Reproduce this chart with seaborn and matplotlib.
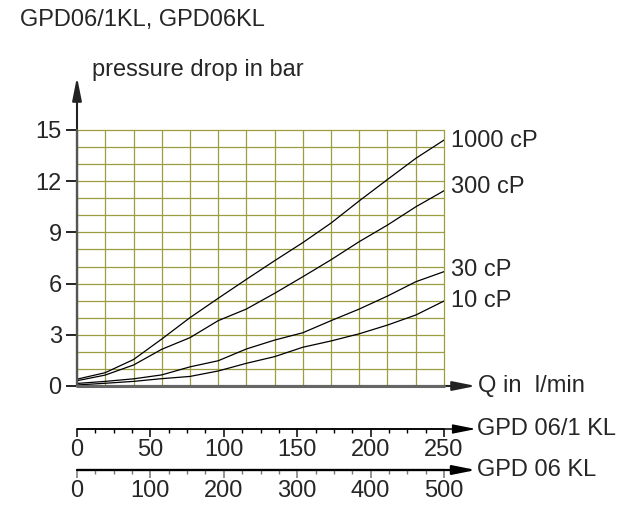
import numpy as np
import pandas as pd
import matplotlib
matplotlib.use("Agg")
import matplotlib.pyplot as plt
import seaborn as sns
from matplotlib.ticker import MultipleLocator

# ---- data ----
flow = [0, 19.2, 38.5, 57.7, 76.9, 96.2, 115.4, 134.6, 153.8, 173.1, 192.3, 211.5, 230.8, 250]
p_1000 = [0.40, 0.78, 1.55, 2.75, 4.00, 5.14, 6.25, 7.34, 8.40, 9.55, 10.85, 12.1, 13.34, 14.41]
p_300 = [0.31, 0.64, 1.23, 2.15, 2.83, 3.83, 4.51, 5.43, 6.40, 7.40, 8.46, 9.43, 10.5, 11.44]
p_30 = [0.15, 0.27, 0.42, 0.65, 1.12, 1.48, 2.17, 2.69, 3.12, 3.83, 4.51, 5.27, 6.11, 6.70]
p_10 = [0.06, 0.16, 0.27, 0.43, 0.56, 0.88, 1.33, 1.72, 2.27, 2.64, 3.06, 3.57, 4.16, 4.98]
series_names = ["1000 cP", "300 cP", "30 cP", "10 cP"]
y_ticks = [0, 3, 6, 9, 12, 15]
scale1_ticks = [0, 50, 100, 150, 200, 250]
scale2_ticks = [0, 100, 200, 300, 400, 500]

df = pd.DataFrame({
    "Q": flow * 4,
    "p": p_1000 + p_300 + p_30 + p_10,
    "visc": sum([[n] * len(flow) for n in series_names], []),
})

sns.set_style("white")
plt.rcParams["font.family"] = ["Liberation Sans", "DejaVu Sans"]
FS = 17

W, H = 636, 508
fig = plt.figure(figsize=(W / 100, H / 100), dpi=100)

def fx(px):
    return px / W

def fy(py):
    return 1 - py / H

x0, x1 = 77, 444
y0, y1 = 386, 130
ax = fig.add_axes([fx(x0), fy(y0), (x1 - x0) / W, (y0 - y1) / H])
ax.set_xlim(0, 250)
ax.set_ylim(0, 15)
for s in ax.spines.values():
    s.set_visible(False)

# grid
grid_c = "#9c9c40"
ax.set_xticks(flow)
ax.set_xticklabels([])
ax.set_yticks(y_ticks)
ax.yaxis.set_minor_locator(MultipleLocator(1))
ax.tick_params(axis="x", length=0)
ax.tick_params(axis="y", which="major", length=8, width=1.2, color="black",
               labelsize=FS, pad=3, left=True)
ax.tick_params(axis="y", which="minor", length=0)
ax.grid(True, which="both", color=grid_c, lw=0.9)
ax.set_axisbelow(True)
for ln in ax.get_xgridlines() + ax.get_ygridlines():
    ln.set_clip_on(False)

sns.lineplot(data=df, x="Q", y="p", units="visc", estimator=None, color="black",
             lw=0.9, ax=ax, legend=False)
ax.set_xlabel("")
ax.set_ylabel("")

# axis arrows
ppx_x = (x1 - x0) / 250.0
ppx_y = (y0 - y1) / 15.0
arrow_style = "-|>,head_length=1.0,head_width=0.2"
arrow_props = dict(arrowstyle=arrow_style, color="#222222",
                   lw=1.5, shrinkA=0, shrinkB=0, mutation_scale=14)
ax.annotate("", xy=(0, (y0 - 77) / ppx_y), xytext=(0, 0), arrowprops=arrow_props,
            annotation_clip=False)
ax.annotate("", xy=((476 - x0) / ppx_x, 0), xytext=(0, 0), arrowprops=arrow_props,
            annotation_clip=False)
ax.plot([0, 0], [0, 15], color="#555555", lw=1.6, clip_on=False, zorder=3)
ax.plot([0, 250], [0, 0], color="#666666", lw=2.2, clip_on=False, zorder=3)

fig.text(fx(92), fy(70), "pressure drop in bar", fontsize=FS, va="center", ha="left")
fig.text(fx(478), fy(386), "Q in  l/min", fontsize=FS, va="center", ha="left")
fig.text(fx(20), fy(20), "GPD06/1KL, GPD06KL", fontsize=FS, va="center", ha="left")

label_y = [141, 187, 270, 301]
for name, ly in zip(series_names, label_y):
    fig.text(fx(451), fy(ly), name, fontsize=FS, va="center", ha="left")

# secondary scales
def scale_axis(ypix, vmax, ticks, minor, color, lw, label):
    a = fig.add_axes([fx(x0), fy(ypix), (x1 - x0) / W, 0.0001])
    a.set_xlim(0, vmax)
    a.set_ylim(0, 1)
    for s in a.spines.values():
        s.set_visible(False)
    a.set_yticks([])
    a.set_xticks(ticks)
    a.xaxis.set_minor_locator(MultipleLocator(minor))
    a.tick_params(axis="x", which="major", bottom=True, direction="out", length=6,
                  width=1.1, color=color, labelsize=FS, pad=1)
    a.tick_params(axis="x", which="minor", bottom=True, direction="out", length=3,
                  width=1.0, color=color)
    a.set_facecolor("none")
    a.annotate("", xy=((476 - x0) / (x1 - x0) * vmax, 0), xytext=(0, 0),
               arrowprops=dict(arrowstyle=arrow_style, color="black", lw=lw,
                               shrinkA=0, shrinkB=0, mutation_scale=14),
               annotation_clip=False)
    a.plot([0, vmax], [0, 0], color=color, lw=lw, clip_on=False)
    fig.text(fx(477), fy(ypix), label, fontsize=FS, va="center", ha="left")
    return a

scale_axis(429, 250, scale1_ticks, 12.5, "black", 1.1, "GPD 06/1 KL")
scale_axis(470, 500, scale2_ticks, 25, "#777777", 1.6, "GPD 06 KL")

fig.savefig("out.png", dpi=100)
